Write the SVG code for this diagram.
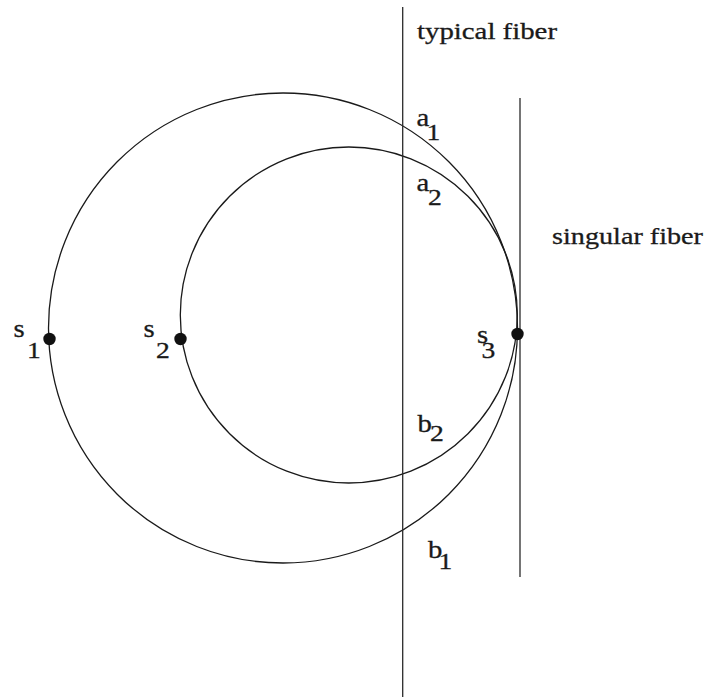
<svg xmlns="http://www.w3.org/2000/svg" width="709" height="697" viewBox="0 0 709 697">
<style>
.c{fill:none;stroke:#1a1a1a;stroke-width:1.3}
.l{stroke:#2a2a2a;stroke-width:1.3}
.t,.g,.n{font-family:'Liberation Serif','Times New Roman',Times,serif;fill:#1a1a1a;stroke:#1a1a1a;stroke-width:0.3}
.t{font-size:24px}
.g{font-size:25px}
.n{font-size:23px}
.d{fill:#111}
</style>
<rect width="709" height="697" fill="#fff"/>
<g id="connectors">
<ellipse class="c" cx="283" cy="328" rx="234.5" ry="235"/>
<ellipse class="c" cx="348.8" cy="315" rx="168.5" ry="168"/>
<line class="l" x1="402.7" y1="7" x2="402.7" y2="697"/>
<line class="l" x1="520" y1="98" x2="520" y2="577"/>
</g>
<g id="typical-fiber"><text class="t" x="417" y="38.5" textLength="140" lengthAdjust="spacingAndGlyphs">typical fiber</text></g>
<g id="singular-fiber"><text class="t" x="552" y="244" textLength="151" lengthAdjust="spacingAndGlyphs">singular fiber</text></g>
<g id="a1"><text class="g" transform="translate(416.5,126) scale(1.15,1)">a</text><text class="n" transform="translate(426.5,139.5) scale(1.2,1)">1</text></g>
<g id="a2"><text class="g" transform="translate(416.5,191) scale(1.15,1)">a</text><text class="n" transform="translate(428,204.5) scale(1.2,1)">2</text></g>
<g id="b2"><text class="g" transform="translate(417.5,431.5) scale(1.15,1)">b</text><text class="n" transform="translate(430,441) scale(1.2,1)">2</text></g>
<g id="b1"><text class="g" transform="translate(428,558) scale(1.15,1)">b</text><text class="n" transform="translate(438.5,568.5) scale(1.2,1)">1</text></g>
<g id="s1"><circle class="d" cx="49.5" cy="339" r="6.2"/><text class="g" transform="translate(13.5,337) scale(1.15,1)">s</text><text class="n" transform="translate(27,357.5) scale(1.2,1)">1</text></g>
<g id="s2"><circle class="d" cx="180.5" cy="339" r="6.2"/><text class="g" transform="translate(143.5,337) scale(1.15,1)">s</text><text class="n" transform="translate(156,357.5) scale(1.2,1)">2</text></g>
<g id="s3"><circle class="d" cx="517.5" cy="334" r="6.2"/><text class="g" transform="translate(477,343) scale(1.15,1)">s</text><text class="n" transform="translate(481.5,357.5) scale(1.2,1)">3</text></g>
</svg>
